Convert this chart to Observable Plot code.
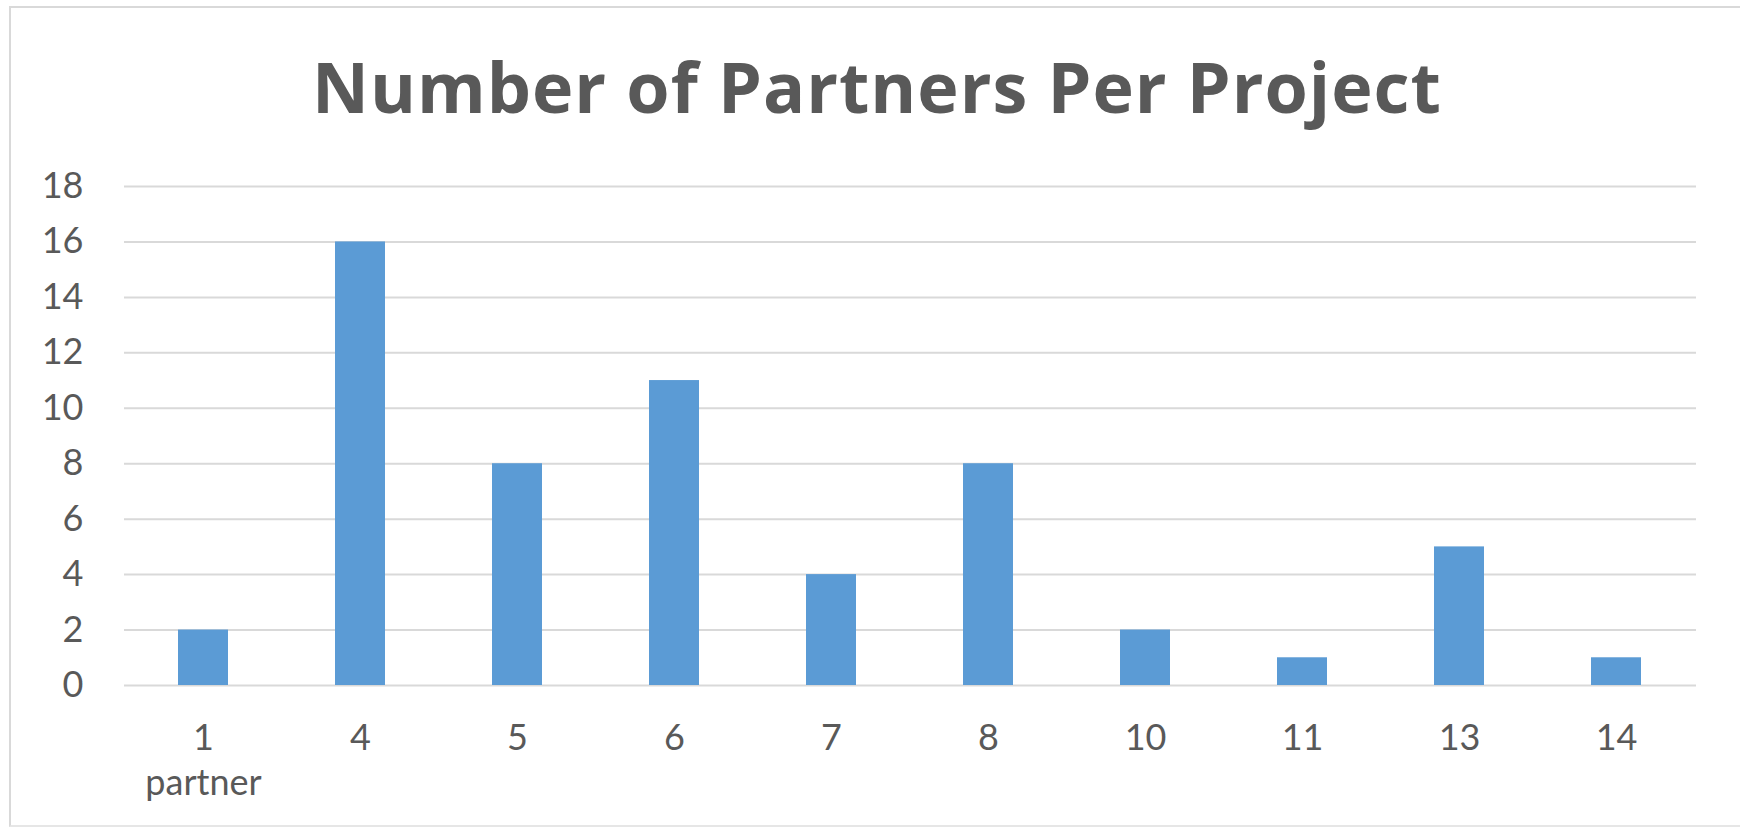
<!DOCTYPE html>
<html>
<head>
<meta charset="utf-8">
<script src="https://cdn.jsdelivr.net/npm/d3@7"></script>
<script src="https://cdn.jsdelivr.net/npm/@observablehq/plot@0.6"></script>
<style>
  html, body { margin: 0; padding: 0; background: #ffffff; overflow: hidden; }
  #frame {
    position: absolute; left: 9px; top: 6px; width: 1760px; height: 821px;
    border-left: 2px solid #d9d9d9; border-top: 2px solid #d9d9d9; border-bottom: 2px solid #e6e6e6;
    box-sizing: border-box;
  }
  #chart { position: absolute; left: 0; top: 0; width: 1740px; height: 831px; }
  #title {
    height: 130px; box-sizing: border-box; padding-top: 51px;
    width: 1740px; text-align: center; position: relative; left: 7px;
    font-family: "Open Sans", Lato, sans-serif; font-weight: bold;
    font-size: 70px; line-height: 70px; letter-spacing: 1px; color: #595959; white-space: nowrap;
  }
</style>
</head>
<body>
<div id="frame"></div>
<div id="chart">
  <div id="title">Number of Partners Per Project</div>
  <div id="plot"></div>
</div>
<script>
const categories = ["1", "4", "5", "6", "7", "8", "10", "11", "13", "14"];
const counts = [2, 16, 8, 11, 4, 8, 2, 1, 5, 1];
const yTicks = [0, 2, 4, 6, 8, 10, 12, 14, 16, 18];
const firstLabelSuffix = "partner";

const data = categories.map((c, i) => ({category: c, count: counts[i]}));

const chart = Plot.plot({
  width: 1740,
  height: 701,
  marginTop: 56,
  marginBottom: 146,
  marginLeft: 124,
  marginRight: 44,
  style: {fontFamily: "Lato, 'Open Sans', sans-serif", fontSize: "36px", color: "#595959", background: "transparent"},
  x: {domain: categories, paddingInner: 0.68, paddingOuter: 0.34},
  y: {domain: [0, 18]},
  marks: [
    Plot.gridY(yTicks, {stroke: "#d9d9d9", strokeOpacity: 1, strokeWidth: 2}),
    Plot.barY(data, {x: "category", y: "count", fill: "#5b9bd5"}),
    Plot.axisY(yTicks, {tickSize: 0, tickPadding: 41, fill: "#595959", fontSize: 36, label: null}),
    Plot.axisX({
      tickSize: 0, tickPadding: 33, fill: "#595959", fontSize: 36, label: null, lineHeight: 1.25,
      tickFormat: (d, i) => i === 0 ? d + "\n" + firstLabelSuffix : d
    })
  ]
});
document.getElementById("plot").appendChild(chart);
</script>
</body>
</html>
